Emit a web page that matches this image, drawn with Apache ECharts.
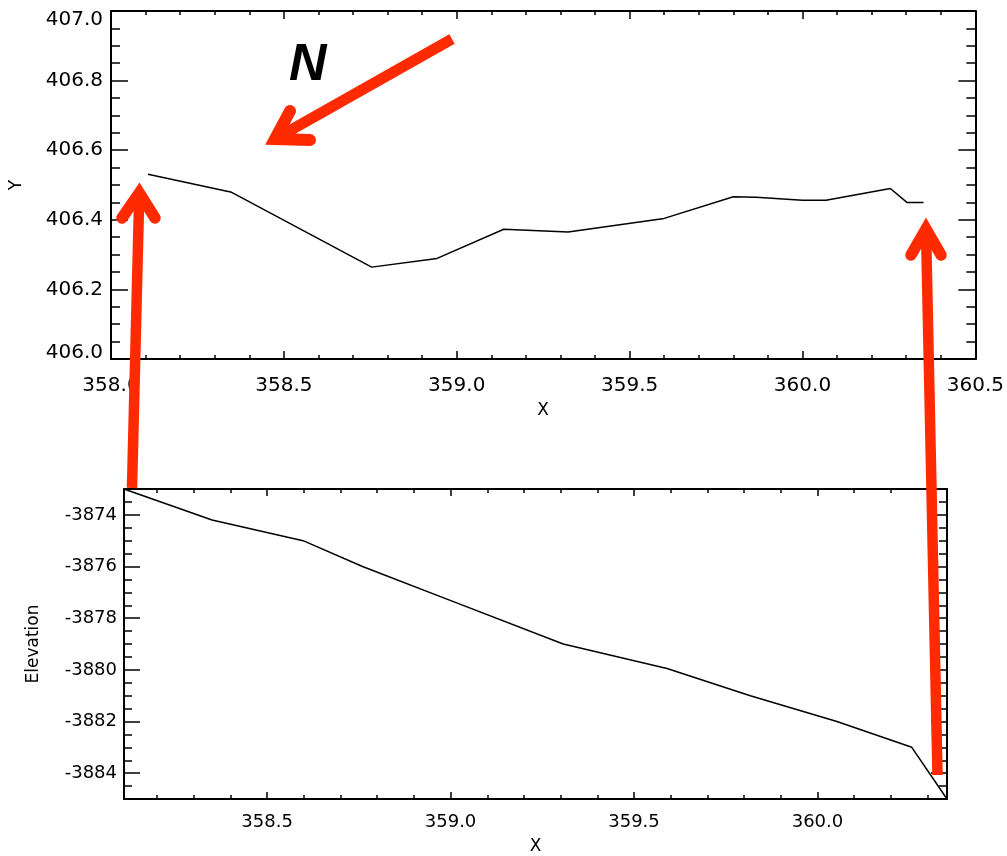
<!DOCTYPE html>
<html>
<head>
<meta charset="utf-8">
<script src="https://cdn.jsdelivr.net/npm/echarts@6/dist/echarts.min.js"></script>
<style>
  html, body { margin: 0; padding: 0; background: #fff; }
  #chart { width: 1007px; height: 856px; }
</style>
</head>
<body>
<div id="chart"></div>
<script>
// Track position along the profile (X vs Y)
const profileX = [358.107, 358.349, 358.754, 358.943, 359.136, 359.322, 359.600, 359.800, 359.866, 360.000, 360.068, 360.254, 360.302, 360.350];
const profileY = [406.531, 406.479, 406.264, 406.289, 406.373, 406.365, 406.404, 406.466, 406.465, 406.456, 406.456, 406.490, 406.450, 406.450];

// Elevation along the same profile
const elevX = [358.110, 358.350, 358.598, 358.760, 359.006, 359.307, 359.590, 359.817, 360.053, 360.257, 360.353];
const elevY = [-3873.0, -3874.2, -3875.0, -3876.0, -3877.35, -3879.0, -3879.95, -3881.0, -3882.0, -3883.0, -3885.0];

// Tick labels
const topXTicks = [358.0, 358.5, 359.0, 359.5, 360.0, 360.5];
const topYTicks = [406.0, 406.2, 406.4, 406.6, 406.8, 407.0];
const botXTicks = [358.5, 359.0, 359.5, 360.0];
const botYTicks = [-3884, -3882, -3880, -3878, -3876, -3874];

const RED = '#ff2a00';
const FONT = 'DejaVu Sans';

function steps(min, max, step) {
  const out = [];
  const start = Math.ceil(min / step - 1e-9);
  const end = Math.floor(max / step + 1e-9);
  for (let i = start; i <= end; i++) out.push(+(i * step).toFixed(6));
  return out;
}

function frameAxis(gridIndex, position, min, max, ticks, tickLen, showLine, label, name) {
  const ax = {
    type: 'value', gridIndex, position, min, max,
    axisLine: { show: showLine, onZero: false, lineStyle: { color: '#000', width: 2 } },
    axisTick: { show: true, inside: true, length: tickLen, customValues: ticks,
                lineStyle: { color: '#000', width: 1.5 } },
    axisLabel: label ? Object.assign({ customValues: ticks }, label) : { show: false },
    splitLine: { show: false },
    minorTick: { show: false }
  };
  if (name) Object.assign(ax, name);
  return ax;
}

const tx = [358.0, 360.5], ty = [406.0, 407.0];
const bx = [elevX[0], elevX[elevX.length - 1]], by = [-3885, -3873];

// End labels of the Y scale sit just inside the frame
const yLabelTop = {
  fontFamily: FONT, fontSize: 20, color: '#000', margin: 8,
  formatter: v => {
    const s = v.toFixed(1);
    if (Math.abs(v - ty[1]) < 1e-6) return '{hi|' + s + '}';
    if (Math.abs(v - ty[0]) < 1e-6) return '{lo|' + s + '}';
    return s;
  },
  rich: {
    hi: { fontFamily: FONT, fontSize: 20, color: '#000', padding: [18, 0, 0, 0] },
    lo: { fontFamily: FONT, fontSize: 20, color: '#000', padding: [0, 0, 12, 0] }
  }
};

const xAxes = [
  // top panel
  frameAxis(0, 'bottom', tx[0], tx[1], topXTicks, 8, true,
    { fontFamily: FONT, fontSize: 20, color: '#000', margin: 17, formatter: v => v.toFixed(1) },
    { name: 'X', nameLocation: 'middle', nameGap: 43, nameTextStyle: { fontFamily: FONT, fontSize: 17, color: '#000' } }),
  frameAxis(0, 'bottom', tx[0], tx[1], steps(tx[0], tx[1], 0.1), 4, false, null),
  frameAxis(0, 'top', tx[0], tx[1], topXTicks, 8, true, null),
  frameAxis(0, 'top', tx[0], tx[1], steps(tx[0], tx[1], 0.1), 4, false, null),
  // bottom panel
  frameAxis(1, 'bottom', bx[0], bx[1], botXTicks, 7, true,
    { fontFamily: FONT, fontSize: 18, color: '#000', margin: 14, formatter: v => v.toFixed(1) },
    { name: 'X', nameLocation: 'middle', nameGap: 39, nameTextStyle: { fontFamily: FONT, fontSize: 17, color: '#000' } }),
  frameAxis(1, 'bottom', bx[0], bx[1], steps(bx[0], bx[1], 0.1), 4, false, null),
  frameAxis(1, 'top', bx[0], bx[1], botXTicks, 7, true, null),
  frameAxis(1, 'top', bx[0], bx[1], steps(bx[0], bx[1], 0.1), 4, false, null)
];

const yAxes = [
  // top panel
  frameAxis(0, 'left', ty[0], ty[1], topYTicks, 17, true, yLabelTop,
    { name: 'Y', nameLocation: 'middle', nameGap: 86, nameTextStyle: { fontFamily: FONT, fontSize: 17, color: '#000' } }),
  frameAxis(0, 'left', ty[0], ty[1], steps(ty[0], ty[1], 0.05), 9, false, null),
  frameAxis(0, 'right', ty[0], ty[1], topYTicks, 17, true, null),
  frameAxis(0, 'right', ty[0], ty[1], steps(ty[0], ty[1], 0.05), 9, false, null),
  // bottom panel
  frameAxis(1, 'left', by[0], by[1], botYTicks, 16, true,
    { fontFamily: FONT, fontSize: 18, color: '#000', margin: 7, formatter: v => String(v) },
    { name: 'Elevation', nameLocation: 'middle', nameGap: 82, nameTextStyle: { fontFamily: FONT, fontSize: 17, color: '#000' } }),
  frameAxis(1, 'left', by[0], by[1], steps(by[0], by[1], 0.5), 8, false, null),
  frameAxis(1, 'right', by[0], by[1], botYTicks, 16, true, null),
  frameAxis(1, 'right', by[0], by[1], steps(by[0], by[1], 0.5), 8, false, null)
];

function arrow(shaftFrom, vertex, armA, armB, width) {
  return [
    { type: 'line', z: 100,
      shape: { x1: shaftFrom[0], y1: shaftFrom[1], x2: vertex[0], y2: vertex[1] },
      style: { stroke: RED, lineWidth: width, lineCap: 'butt' } },
    { type: 'polyline', z: 100,
      shape: { points: [armA, vertex, armB] },
      style: { stroke: RED, fill: null, lineWidth: width + 1, lineCap: 'round', lineJoin: 'miter', miterLimit: 10 } }
  ];
}

const chart = echarts.init(document.getElementById('chart'), null, { renderer: 'canvas' });
chart.setOption({
  animation: false,
  backgroundColor: '#fff',
  grid: [
    { left: 107, top: 11, width: 872, height: 348, containLabel: false },
    { left: 124, top: 489, width: 823, height: 312, containLabel: false }
  ],
  xAxis: xAxes,
  yAxis: yAxes,
  series: [
    { type: 'line', xAxisIndex: 0, yAxisIndex: 0, showSymbol: false, silent: true,
      data: profileX.map((x, i) => [x, profileY[i]]),
      lineStyle: { color: '#000', width: 1.5 } },
    { type: 'line', xAxisIndex: 4, yAxisIndex: 4, showSymbol: false, silent: true,
      data: elevX.map((x, i) => [x, elevY[i]]),
      lineStyle: { color: '#000', width: 1.5 } }
  ],
  graphic: [
    { type: 'text', z: 100, left: 289, top: 40,
      style: { text: 'N', font: 'italic bold 52px "Liberation Sans", Arial, sans-serif', fill: '#000' } }
  ].concat(
    // north arrow
    arrow([452, 39], [275, 139], [290, 111], [310, 140], 11),
    // left link arrow
    arrow([132, 488], [139.3, 193], [122, 218], [155, 218], 10.5),
    // right link arrow
    arrow([937.5, 775], [926, 229], [911, 255], [941, 255], 10.5)
  )
});
</script>
</body>
</html>
